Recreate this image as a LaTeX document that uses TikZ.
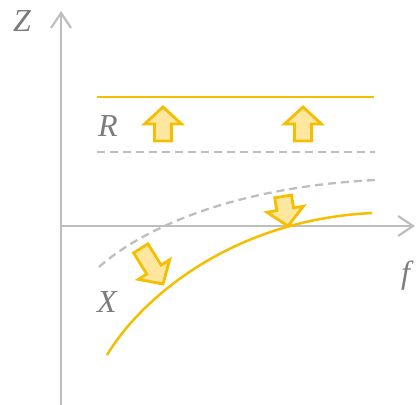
\documentclass[tikz,border=0pt]{standalone}
\usepackage{fontspec}
\setmainfont{Liberation Serif}
\usetikzlibrary{arrows.meta}
\definecolor{amber}{HTML}{F5BE00}
\definecolor{amberlight}{HTML}{FFE7A0}
\definecolor{axisgray}{HTML}{BEBEBE}
\definecolor{labelgray}{HTML}{7C7C7C}

% block arrow: tip x, tip y, angle, total length
\newcommand{\fatarrow}[4]{%
  \draw[fatarrow, shift={(#1,#2)}, rotate=#3]
    (0,0) -- (-17,18.5) -- (-17,8.5) -- (-#4,8.5) -- (-#4,-8.5) -- (-17,-8.5) -- (-17,-18.5) -- cycle;}

\begin{document}
\begin{tikzpicture}[
  x=1pt, y=-1pt,
  font=\rmfamily\itshape\fontsize{32}{36}\selectfont,
  axis/.style={draw=axisgray, line width=2.2pt, -{Straight Barb[length=15pt, width=20pt, line width=2.2pt]}},
  level/.style={draw=amber, line width=2.5pt},
  guide/.style={draw=axisgray, line width=2.3pt, dash pattern=on 8pt off 5pt},
  fatarrow/.style={draw=amber, fill=amberlight, line width=2.8pt, line join=miter},
  lbl/.style={text=labelgray, inner sep=0pt},
]
\useasboundingbox (0,0) rectangle (417,404);
\clip (0,0) rectangle (417,404);

% axes
\coordinate (zbot) at (61,406);
\coordinate (ztop) at (61,11);
\coordinate (forig) at (60,226);
\coordinate (fend) at (415,226);
\draw[axis] (zbot) -- (ztop);
\draw[axis] (forig) -- (fend);
\node[lbl] (zlab) at (22,21) {Z};
\node[lbl, anchor=west] (flab) at (401,276) {f};

% levels
\draw[level] (97,97) -- (374,97);
\draw[guide] (97,152) -- (375,152);
\node[lbl] (rlab) at (108,126) {R};

% curves
\draw[guide] (99,267) .. controls (135,235) and (220,188) .. (375,180);
\draw[level] (107,355) .. controls (140,300) and (230,220) .. (372,213);
\node[lbl] (xlab) at (107,302) {X};

% shifts
\fatarrow{163}{107}{90}{34}
\fatarrow{303}{107}{90}{34}
\fatarrow{163}{284}{-58}{42}
\fatarrow{288}{226}{-80.5}{30}
\end{tikzpicture}
\end{document}
